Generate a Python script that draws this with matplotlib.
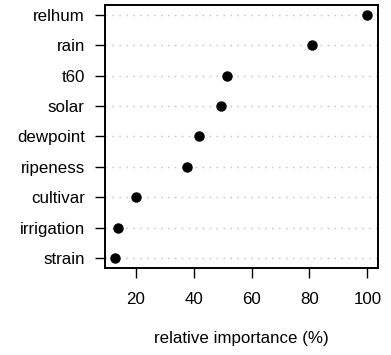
import matplotlib
matplotlib.use("Agg")
import matplotlib.pyplot as plt

plt.rcParams['font.family'] = ['Liberation Sans', 'DejaVu Sans']

# variables, top to bottom as drawn
variables = ["relhum", "rain", "t60", "solar", "dewpoint",
             "ripeness", "cultivar", "irrigation", "strain"]
importance = [100.0, 80.9, 51.6, 49.6, 41.7, 37.8, 20.0, 14.0, 12.9]
xticks = [20, 40, 60, 80, 100]

fig = plt.figure(figsize=(3.91, 3.55), dpi=100)
ax = fig.add_axes([0.2685, 0.246, 0.697, 0.739])

n = len(variables)
ypos = list(range(n, 0, -1))

for y in ypos:
    ax.axhline(y, color="#c0c0c0", lw=1.0, linestyle=(0, (1, 4)), zorder=1)
ax.plot(importance, ypos, "o", color="black", markersize=6.5, zorder=3)

lo, hi = min(importance), max(importance)
pad = (hi - lo) * 0.04
ax.set_xlim(lo - pad, hi + pad)
ax.set_ylim(1 - (n - 1) * 0.04, n + (n - 1) * 0.04)

ax.set_yticks(ypos)
ax.set_yticklabels(variables)
ax.set_xticks(xticks)
ax.tick_params(axis="both", labelsize=12.2, length=7.5, width=1, color="black")
ax.tick_params(axis="x", pad=10)
ax.tick_params(axis="y", pad=7)
for s in ax.spines.values():
    s.set_linewidth(1.4)

ax.set_xlabel("relative importance (%)", fontsize=12.2, labelpad=17)

fig.savefig("out.png", dpi=100)
